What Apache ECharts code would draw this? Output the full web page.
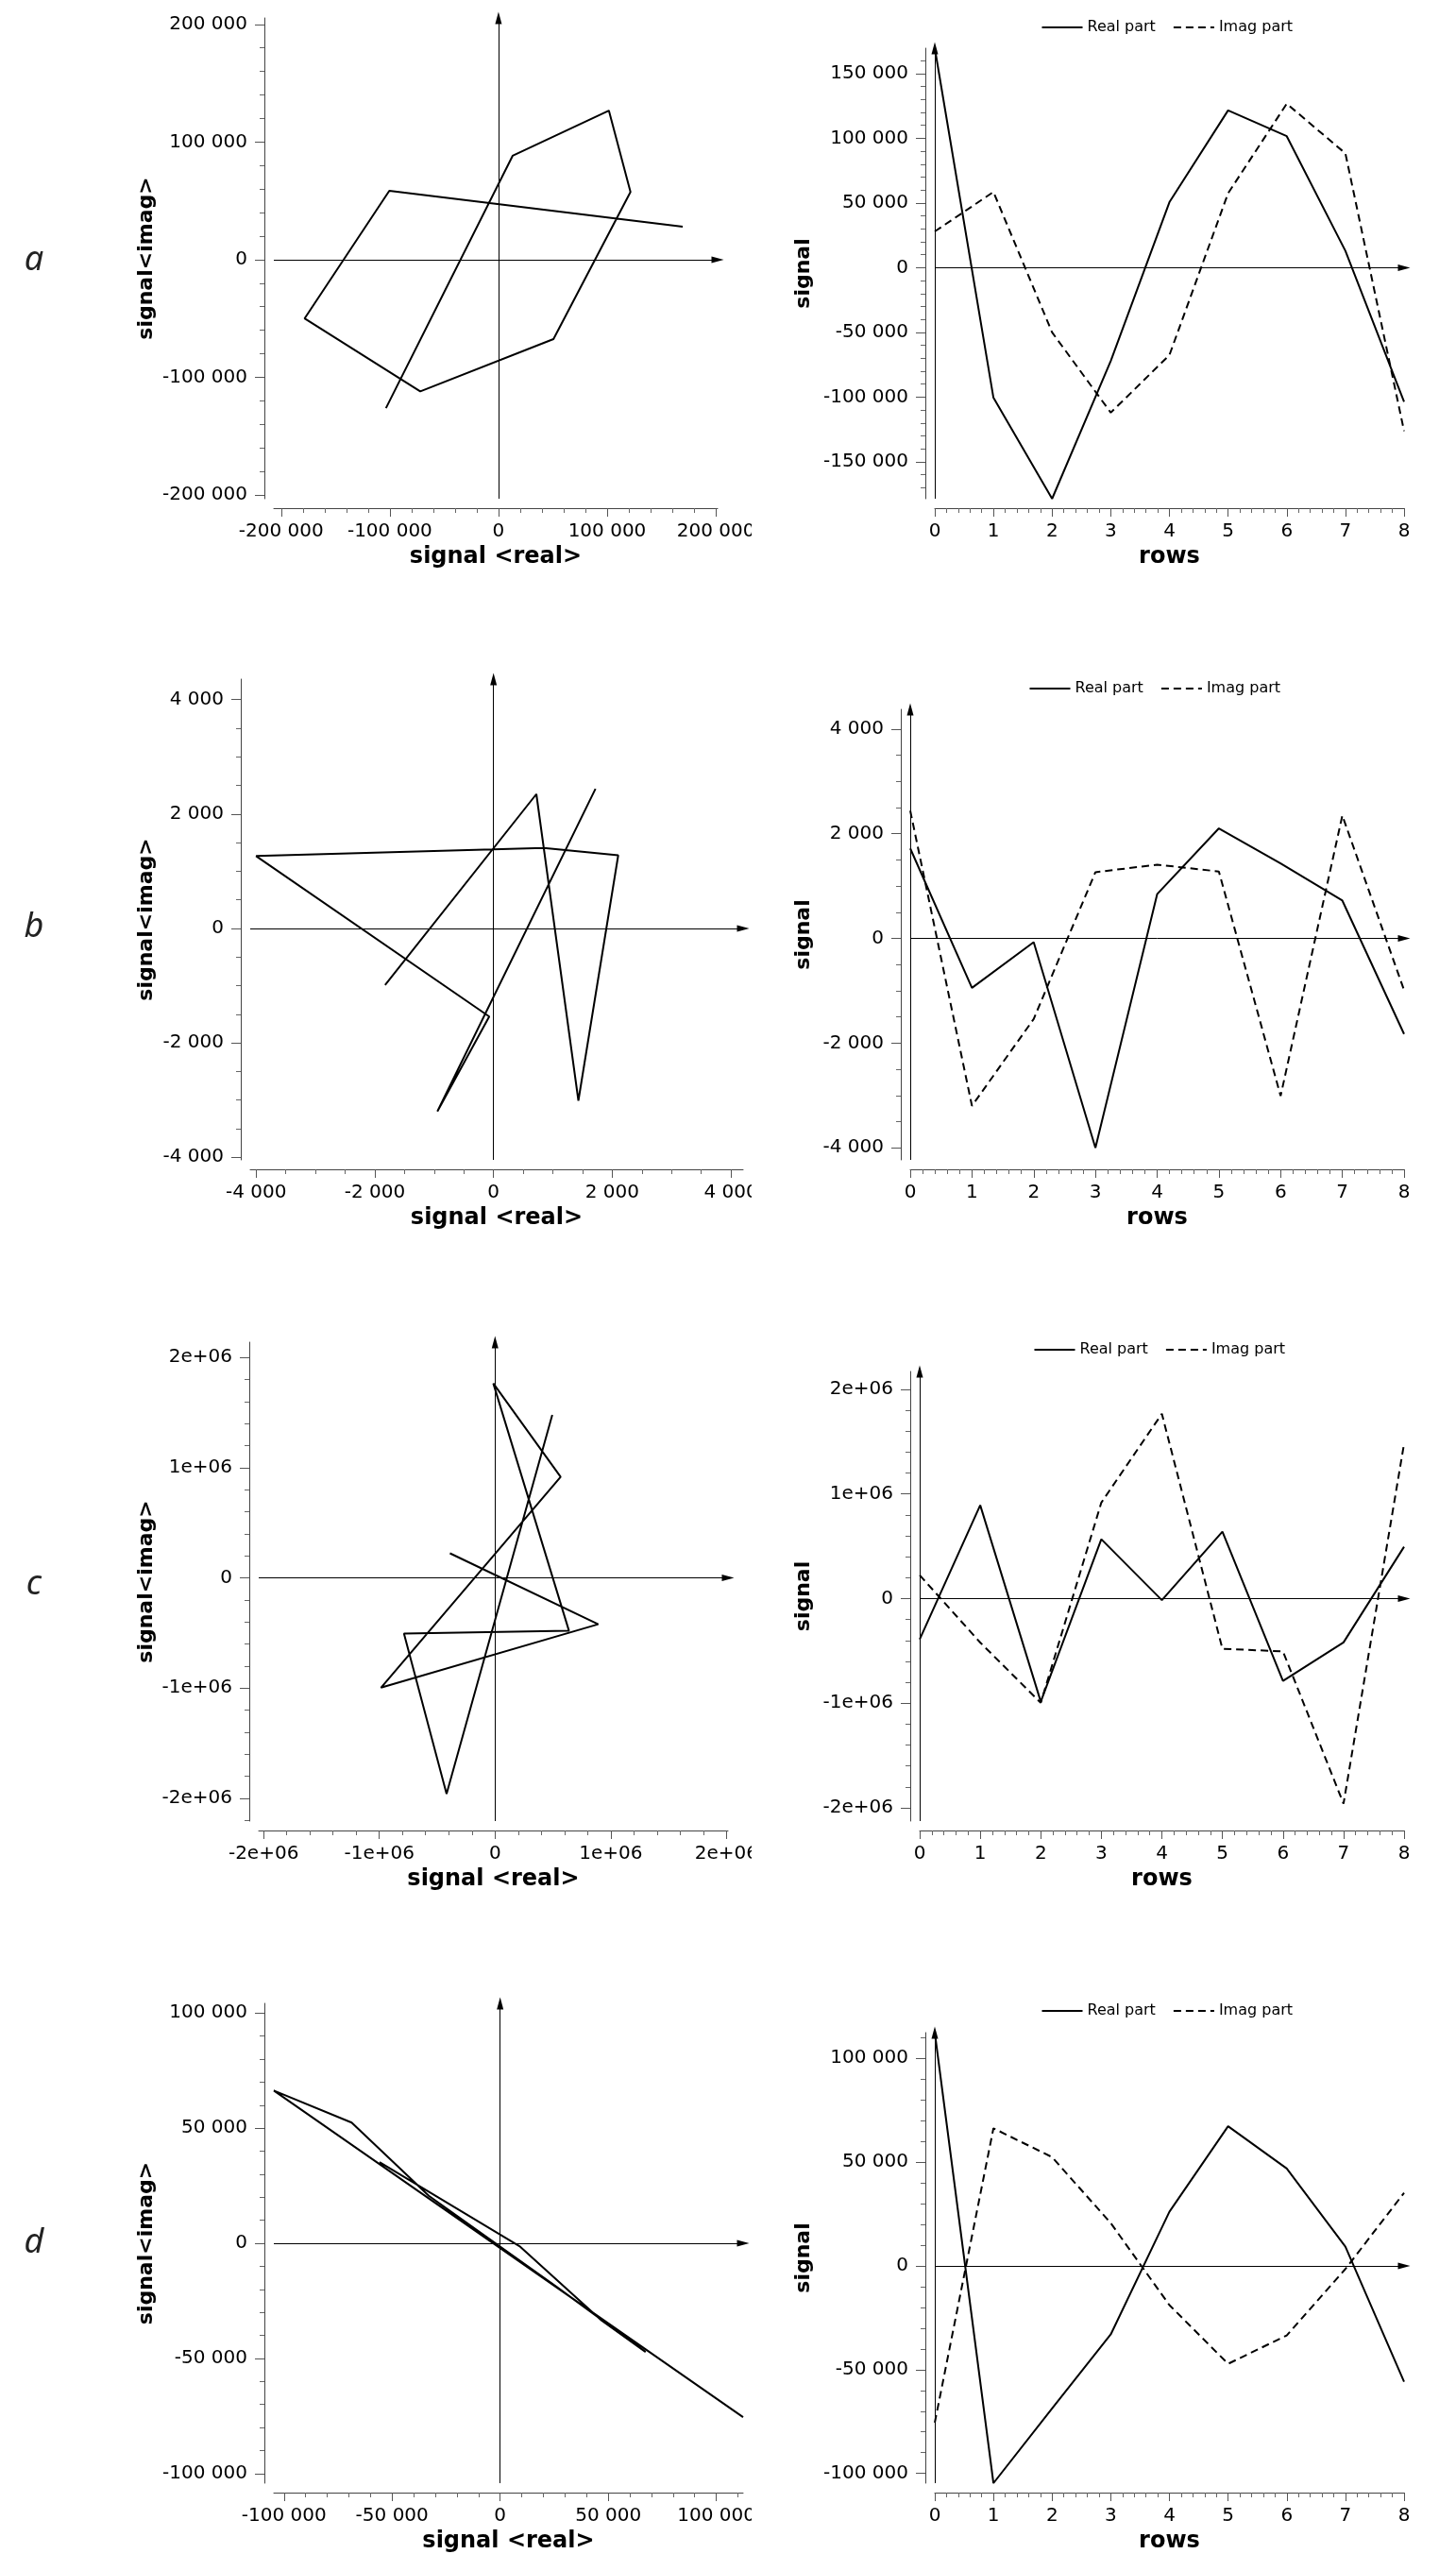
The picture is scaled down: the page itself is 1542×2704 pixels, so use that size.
<!DOCTYPE html>
<html>
<head>
<meta charset="utf-8">
<script src="https://cdn.jsdelivr.net/npm/echarts@6/dist/echarts.min.js"></script>
<style>
html,body{margin:0;padding:0;background:#fff;}
#c{width:1542px;height:2704px;}
</style>
</head>
<body>
<div id="c"></div>
<script>
// ---------- data ----------
const rows = [0, 1, 2, 3, 4, 5, 6, 7, 8];

const realA = [169600, -100500, -178500, -72000, 50600, 121500, 101600, 13000, -103600];
const imagA = [28000, 58500, -50000, -112000, -67500, 57500, 126700, 88300, -126200];

const realB = [1718, -946, -72, -4000, 845, 2101, 1430, 722, -1827];
const imagB = [2440, -3199, -1540, 1264, 1408, 1278, -3010, 2347, -989];

const realC = [-390000, 891700, -985600, 566800, -15000, 639000, -787000, -418800, 494600];
const imagC = [223800, -420000, -996000, 917000, 1765000, -480000, -505000, -1960000, 1480000];

const realD = [112400, -104700, -68700, -33000, 26100, 67300, 46900, 9300, -55800];
const imagD = [-75500, 66300, 52400, 20600, -18900, -47200, -33500, -1500, 35200];

// tick labels
const ticksA = [-200000, -100000, 0, 100000, 200000];
const ticksAR = [-150000, -100000, -50000, 0, 50000, 100000, 150000];
const ticksB = [-4000, -2000, 0, 2000, 4000];
const ticksC = [-2000000, -1000000, 0, 1000000, 2000000];
const ticksD = [-100000, -50000, 0, 50000, 100000];
const ticksRows = [0, 1, 2, 3, 4, 5, 6, 7, 8];

const legendNames = ['Real part', 'Imag part'];

// ---------- helpers ----------
function fmt(v, sci) {
  if (v === 0) return '0';
  if (sci) return (v / 1e6) + 'e+06';
  const s = String(Math.abs(v)).replace(/\B(?=(\d{3})+(?!\d))/g, ' ');
  return (v < 0 ? '-' : '') + s;
}
function minors(range, step, majors) {
  const out = [];
  const k0 = Math.ceil(range[0] / step - 1e-9), k1 = Math.floor(range[1] / step + 1e-9);
  for (let k = k0; k <= k1; k++) {
    const v = Math.round(k * step * 1e6) / 1e6;
    if (!majors.some(m => Math.abs(m - v) < step * 1e-6)) out.push(v);
  }
  return out;
}

const FONT = 'DejaVu Sans';
const grid = [], xAxis = [], yAxis = [], series = [], legend = [], graphic = [];

const zeroLines = {
  silent: true,
  symbol: ['none', 'triangle'],
  symbolSize: [7, 13],
  label: { show: false },
  lineStyle: { color: '#000', width: 1, type: 'solid' },
  emphasis: { disabled: true },
  animation: false,
  data: [{ xAxis: 0 }, { yAxis: 0 }]
};

function addPanel(p) {
  const gi = grid.length;
  const r = p.rect;
  grid.push({ left: r.left, top: r.top, width: r.width, height: r.height, containLabel: false });
  grid.push({ left: r.left, top: r.top, width: r.width, height: r.height, containLabel: false });
  const xi = xAxis.length, yi = yAxis.length;
  const axisX = r.left - 10;
  xAxis.push({
    type: 'value', gridIndex: gi, position: 'bottom', offset: 10,
    min: p.xr[0], max: p.xr[1],
    name: p.xName, nameLocation: 'middle', nameGap: 40,
    nameTextStyle: { fontFamily: FONT, fontWeight: 'bold', fontSize: 24, color: '#000' },
    axisLine: { show: true, onZero: false, lineStyle: { color: '#444', width: 1 } },
    axisTick: { show: true, customValues: p.xt, length: 9, lineStyle: { color: '#555' } },
    axisLabel: { customValues: p.xt, formatter: v => fmt(v, p.xsci), margin: 15,
      fontFamily: FONT, fontSize: 20, color: '#000' },
    splitLine: { show: false }
  });
  yAxis.push({
    type: 'value', gridIndex: gi, position: 'left', offset: 10,
    min: p.yr[0], max: p.yr[1],
    name: p.yName, nameLocation: 'middle', nameRotate: 90,
    nameGap: axisX - p.yTitleX - 11,
    nameTextStyle: { fontFamily: FONT, fontWeight: 'bold', fontSize: 22, color: '#000' },
    axisLine: { show: true, onZero: false, lineStyle: { color: '#444', width: 1 } },
    axisTick: { show: true, customValues: p.yt, length: 10, lineStyle: { color: '#555' } },
    axisLabel: { customValues: p.yt, formatter: v => fmt(v, p.ysci), margin: 18,
      fontFamily: FONT, fontSize: 20, color: '#000' },
    splitLine: { show: false }
  });
  // minor ticks (overlaid grid)
  xAxis.push({
    type: 'value', gridIndex: gi + 1, position: 'bottom', offset: 10,
    min: p.xr[0], max: p.xr[1],
    axisLine: { show: false, onZero: false },
    axisTick: { show: true, customValues: minors(p.xr, p.xm, p.xt), length: 5, lineStyle: { color: '#666' } },
    axisLabel: { show: false }, splitLine: { show: false }
  });
  yAxis.push({
    type: 'value', gridIndex: gi + 1, position: 'left', offset: 10,
    min: p.yr[0], max: p.yr[1],
    axisLine: { show: false, onZero: false },
    axisTick: { show: true, customValues: minors(p.yr, p.ym, p.yt), length: 5, lineStyle: { color: '#666' } },
    axisLabel: { show: false }, splitLine: { show: false }
  });
  p.series.forEach((s, k) => {
    const o = Object.assign({ xAxisIndex: xi, yAxisIndex: yi, type: 'line', symbol: 'none',
      animation: false, silent: true, clip: false }, s);
    if (k === 0) o.markLine = zeroLines;
    series.push(o);
  });
}

const panels = [
  { letter: 'a', real: realA, imag: imagA, letterY: 276, legendTop: 21,
    L: { rect: { left: 290, top: 19, width: 470, height: 509 }, xr: [-206800, 201700], yr: [-203200, 205460],
         xt: ticksA, yt: ticksA, xm: 20000, ym: 20000, sci: false },
    R: { rect: { left: 990, top: 51, width: 497, height: 477 }, yr: null, yt: ticksAR, ym: 10000, sci: false } },
  { letter: 'b', real: realB, imag: imagB, letterY: 982, legendTop: 721,
    L: { rect: { left: 265, top: 719, width: 522, height: 509 }, xr: [-4099, 4205], yr: [-4046, 4357],
         xt: ticksB, yt: ticksB, xm: 500, ym: 500, sci: false },
    R: { rect: { left: 964, top: 751, width: 523, height: 477 }, yr: [-4231, 4375], yt: ticksB, ym: 500, sci: false } },
  { letter: 'c', real: realC, imag: imagC, letterY: 1678, legendTop: 1421,
    L: { rect: { left: 274, top: 1421, width: 497, height: 507 }, xr: [-2042000, 2013000], yr: [-2206000, 2139000],
         xt: ticksC, yt: ticksC, xm: 200000, ym: 200000, sci: true },
    R: { rect: { left: 974, top: 1452, width: 513, height: 476 }, yr: [-2126000, 2170000], yt: ticksC, ym: 200000, sci: true } },
  { letter: 'd', real: realD, imag: imagD, letterY: 2375, legendTop: 2121,
    L: { rect: { left: 290, top: 2121, width: 497, height: 508 }, xr: null, yr: [-104180, 104200],
         xt: ticksD, yt: ticksD, xm: 10000, ym: 10000, sci: false },
    R: { rect: { left: 990, top: 2152, width: 497, height: 477 }, yr: null, yt: ticksD, ym: 10000, sci: false } }
];

panels.forEach(P => {
  const L = P.L, R = P.R;
  const xrL = L.xr || [Math.min(...P.real), Math.max(...P.real)];
  addPanel({
    rect: L.rect, xr: xrL, yr: L.yr, xt: L.xt, yt: L.yt, xm: L.xm, ym: L.ym, xsci: L.sci, ysci: L.sci,
    xName: 'signal <real>', yName: 'signal<imag>', yTitleX: 155,
    series: [{ data: P.real.map((re, i) => [re, P.imag[i]]), lineStyle: { color: '#000', width: 2 }, itemStyle: { color: '#000' } }]
  });
  const yrR = R.yr || [Math.min(...P.real, ...P.imag), Math.max(...P.real, ...P.imag)];
  addPanel({
    rect: R.rect, xr: [rows[0], rows[rows.length - 1]], yr: yrR, xt: ticksRows, yt: R.yt, xm: 0.2, ym: R.ym,
    xsci: false, ysci: R.sci,
    xName: 'rows', yName: 'signal', yTitleX: 851,
    series: [
      { name: legendNames[0], data: rows.map((x, i) => [x, P.real[i]]), lineStyle: { color: '#000', width: 2, type: 'solid' }, itemStyle: { color: '#000' } },
      { name: legendNames[1], data: rows.map((x, i) => [x, P.imag[i]]), lineStyle: { color: '#000', width: 2, type: [8, 5] }, itemStyle: { color: '#000' } }
    ]
  });
  const cx = R.rect.left + R.rect.width / 2;
  legend.push({
    data: legendNames, left: cx - 136, top: P.legendTop, padding: 0,
    itemWidth: 43, itemHeight: 14, itemGap: 18, selectedMode: false,
    itemStyle: { color: 'rgba(0,0,0,0)', borderColor: 'rgba(0,0,0,0)', borderWidth: 0, opacity: 0 },
    textStyle: { fontFamily: FONT, fontSize: 16, color: '#000' }
  });
  graphic.push({
    type: 'text', x: 36, y: P.letterY, silent: true,
    style: { text: P.letter, fontFamily: 'Noto Sans', fontStyle: 'italic', fontSize: 36, fill: '#222',
      align: 'center', verticalAlign: 'middle' }
  });
  // the left plot is clipped at its right border (x label overflow)
  const axisY = L.rect.top + L.rect.height + 10;
  graphic.push({
    type: 'rect', silent: true, z: 100,
    shape: { x: 796, y: axisY + 6, width: 40, height: 34 },
    style: { fill: '#fff' }
  });
});

const chart = echarts.init(document.getElementById('c'), null, { renderer: 'canvas' });
chart.setOption({
  backgroundColor: '#fff',
  animation: false,
  grid, xAxis, yAxis, series, legend, graphic
});
</script>
</body>
</html>
